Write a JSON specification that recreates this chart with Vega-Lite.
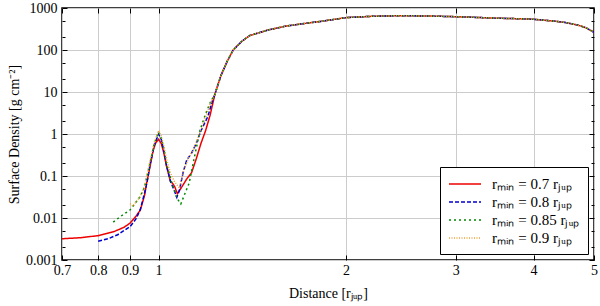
{
  "$schema": "https://vega.github.io/schema/vega-lite/v6.json",
  "width": 532,
  "height": 252,
  "autosize": "none",
  "padding": {"left": 62, "top": 8, "right": 6, "bottom": 46},
  "background": "white",
  "config": {
    "font": "Liberation Serif",
    "view": {"stroke": "black", "strokeWidth": 1.5},
    "axis": {
      "labelFont": "Liberation Serif",
      "titleFont": "Liberation Serif",
      "labelFontSize": 14,
      "titleFontSize": 14,
      "titleFontWeight": "normal",
      "labelColor": "black",
      "titleColor": "black",
      "gridColor": "#cccccc",
      "gridWidth": 1,
      "domainColor": "black",
      "tickColor": "black"
    }
  },
  "data": {
    "values": [
      {"s": "rₘᵢₙ = 0.7 rⱼᵤₚ", "x": 0.70, "y": 0.0032},
      {"s": "rₘᵢₙ = 0.7 rⱼᵤₚ", "x": 0.75, "y": 0.0034},
      {"s": "rₘᵢₙ = 0.7 rⱼᵤₚ", "x": 0.80, "y": 0.0038},
      {"s": "rₘᵢₙ = 0.7 rⱼᵤₚ", "x": 0.85, "y": 0.0048},
      {"s": "rₘᵢₙ = 0.7 rⱼᵤₚ", "x": 0.88, "y": 0.0060},
      {"s": "rₘᵢₙ = 0.7 rⱼᵤₚ", "x": 0.90, "y": 0.0075},
      {"s": "rₘᵢₙ = 0.7 rⱼᵤₚ", "x": 0.92, "y": 0.011},
      {"s": "rₘᵢₙ = 0.7 rⱼᵤₚ", "x": 0.935, "y": 0.0155},
      {"s": "rₘᵢₙ = 0.7 rⱼᵤₚ", "x": 0.95, "y": 0.035},
      {"s": "rₘᵢₙ = 0.7 rⱼᵤₚ", "x": 0.957, "y": 0.067},
      {"s": "rₘᵢₙ = 0.7 rⱼᵤₚ", "x": 0.97, "y": 0.18},
      {"s": "rₘᵢₙ = 0.7 rⱼᵤₚ", "x": 0.981, "y": 0.42},
      {"s": "rₘᵢₙ = 0.7 rⱼᵤₚ", "x": 0.99, "y": 0.62},
      {"s": "rₘᵢₙ = 0.7 rⱼᵤₚ", "x": 1.0, "y": 0.75},
      {"s": "rₘᵢₙ = 0.7 rⱼᵤₚ", "x": 1.01, "y": 0.6},
      {"s": "rₘᵢₙ = 0.7 rⱼᵤₚ", "x": 1.02, "y": 0.35},
      {"s": "rₘᵢₙ = 0.7 rⱼᵤₚ", "x": 1.03, "y": 0.17},
      {"s": "rₘᵢₙ = 0.7 rⱼᵤₚ", "x": 1.045, "y": 0.075},
      {"s": "rₘᵢₙ = 0.7 rⱼᵤₚ", "x": 1.055, "y": 0.065},
      {"s": "rₘᵢₙ = 0.7 rⱼᵤₚ", "x": 1.062, "y": 0.055},
      {"s": "rₘᵢₙ = 0.7 rⱼᵤₚ", "x": 1.072, "y": 0.038},
      {"s": "rₘᵢₙ = 0.7 rⱼᵤₚ", "x": 1.09, "y": 0.055},
      {"s": "rₘᵢₙ = 0.7 rⱼᵤₚ", "x": 1.11, "y": 0.085},
      {"s": "rₘᵢₙ = 0.7 rⱼᵤₚ", "x": 1.13, "y": 0.12},
      {"s": "rₘᵢₙ = 0.7 rⱼᵤₚ", "x": 1.15, "y": 0.26},
      {"s": "rₘᵢₙ = 0.7 rⱼᵤₚ", "x": 1.17, "y": 0.6},
      {"s": "rₘᵢₙ = 0.7 rⱼᵤₚ", "x": 1.19, "y": 1.2},
      {"s": "rₘᵢₙ = 0.7 rⱼᵤₚ", "x": 1.21, "y": 2.8},
      {"s": "rₘᵢₙ = 0.7 rⱼᵤₚ", "x": 1.232, "y": 9},
      {"s": "rₘᵢₙ = 0.7 rⱼᵤₚ", "x": 1.26, "y": 25},
      {"s": "rₘᵢₙ = 0.7 rⱼᵤₚ", "x": 1.29, "y": 55},
      {"s": "rₘᵢₙ = 0.7 rⱼᵤₚ", "x": 1.318, "y": 100},
      {"s": "rₘᵢₙ = 0.7 rⱼᵤₚ", "x": 1.36, "y": 160},
      {"s": "rₘᵢₙ = 0.7 rⱼᵤₚ", "x": 1.40, "y": 220},
      {"s": "rₘᵢₙ = 0.7 rⱼᵤₚ", "x": 1.5, "y": 300},
      {"s": "rₘᵢₙ = 0.7 rⱼᵤₚ", "x": 1.6, "y": 370},
      {"s": "rₘᵢₙ = 0.7 rⱼᵤₚ", "x": 1.7, "y": 420},
      {"s": "rₘᵢₙ = 0.7 rⱼᵤₚ", "x": 1.82, "y": 480},
      {"s": "rₘᵢₙ = 0.7 rⱼᵤₚ", "x": 2.0, "y": 590},
      {"s": "rₘᵢₙ = 0.7 rⱼᵤₚ", "x": 2.2, "y": 635},
      {"s": "rₘᵢₙ = 0.7 rⱼᵤₚ", "x": 2.44, "y": 656},
      {"s": "rₘᵢₙ = 0.7 rⱼᵤₚ", "x": 2.7, "y": 645},
      {"s": "rₘᵢₙ = 0.7 rⱼᵤₚ", "x": 3.0, "y": 621},
      {"s": "rₘᵢₙ = 0.7 rⱼᵤₚ", "x": 3.3, "y": 590},
      {"s": "rₘᵢₙ = 0.7 rⱼᵤₚ", "x": 3.53, "y": 569},
      {"s": "rₘᵢₙ = 0.7 rⱼᵤₚ", "x": 3.8, "y": 555},
      {"s": "rₘᵢₙ = 0.7 rⱼᵤₚ", "x": 4.0, "y": 538},
      {"s": "rₘᵢₙ = 0.7 rⱼᵤₚ", "x": 4.3, "y": 490},
      {"s": "rₘᵢₙ = 0.7 rⱼᵤₚ", "x": 4.5, "y": 450},
      {"s": "rₘᵢₙ = 0.7 rⱼᵤₚ", "x": 4.7, "y": 395},
      {"s": "rₘᵢₙ = 0.7 rⱼᵤₚ", "x": 4.85, "y": 340},
      {"s": "rₘᵢₙ = 0.7 rⱼᵤₚ", "x": 5.0, "y": 265},

      {"s": "rₘᵢₙ = 0.8 rⱼᵤₚ", "x": 0.80, "y": 0.0028},
      {"s": "rₘᵢₙ = 0.8 rⱼᵤₚ", "x": 0.83, "y": 0.0032},
      {"s": "rₘᵢₙ = 0.8 rⱼᵤₚ", "x": 0.86, "y": 0.0040},
      {"s": "rₘᵢₙ = 0.8 rⱼᵤₚ", "x": 0.90, "y": 0.0062},
      {"s": "rₘᵢₙ = 0.8 rⱼᵤₚ", "x": 0.92, "y": 0.0095},
      {"s": "rₘᵢₙ = 0.8 rⱼᵤₚ", "x": 0.935, "y": 0.016},
      {"s": "rₘᵢₙ = 0.8 rⱼᵤₚ", "x": 0.95, "y": 0.04},
      {"s": "rₘᵢₙ = 0.8 rⱼᵤₚ", "x": 0.96, "y": 0.08},
      {"s": "rₘᵢₙ = 0.8 rⱼᵤₚ", "x": 0.97, "y": 0.2},
      {"s": "rₘᵢₙ = 0.8 rⱼᵤₚ", "x": 0.985, "y": 0.55},
      {"s": "rₘᵢₙ = 0.8 rⱼᵤₚ", "x": 1.0, "y": 1.0},
      {"s": "rₘᵢₙ = 0.8 rⱼᵤₚ", "x": 1.01, "y": 0.75},
      {"s": "rₘᵢₙ = 0.8 rⱼᵤₚ", "x": 1.02, "y": 0.4},
      {"s": "rₘᵢₙ = 0.8 rⱼᵤₚ", "x": 1.03, "y": 0.18},
      {"s": "rₘᵢₙ = 0.8 rⱼᵤₚ", "x": 1.045, "y": 0.075},
      {"s": "rₘᵢₙ = 0.8 rⱼᵤₚ", "x": 1.06, "y": 0.045},
      {"s": "rₘᵢₙ = 0.8 rⱼᵤₚ", "x": 1.07, "y": 0.031},
      {"s": "rₘᵢₙ = 0.8 rⱼᵤₚ", "x": 1.08, "y": 0.045},
      {"s": "rₘᵢₙ = 0.8 rⱼᵤₚ", "x": 1.095, "y": 0.12},
      {"s": "rₘᵢₙ = 0.8 rⱼᵤₚ", "x": 1.11, "y": 0.24},
      {"s": "rₘᵢₙ = 0.8 rⱼᵤₚ", "x": 1.13, "y": 0.35},
      {"s": "rₘᵢₙ = 0.8 rⱼᵤₚ", "x": 1.15, "y": 0.6},
      {"s": "rₘᵢₙ = 0.8 rⱼᵤₚ", "x": 1.17, "y": 1.2},
      {"s": "rₘᵢₙ = 0.8 rⱼᵤₚ", "x": 1.20, "y": 2.6},
      {"s": "rₘᵢₙ = 0.8 rⱼᵤₚ", "x": 1.22, "y": 6},
      {"s": "rₘᵢₙ = 0.8 rⱼᵤₚ", "x": 1.232, "y": 9},
      {"s": "rₘᵢₙ = 0.8 rⱼᵤₚ", "x": 1.26, "y": 25},
      {"s": "rₘᵢₙ = 0.8 rⱼᵤₚ", "x": 1.29, "y": 55},
      {"s": "rₘᵢₙ = 0.8 rⱼᵤₚ", "x": 1.318, "y": 100},
      {"s": "rₘᵢₙ = 0.8 rⱼᵤₚ", "x": 1.36, "y": 160},
      {"s": "rₘᵢₙ = 0.8 rⱼᵤₚ", "x": 1.40, "y": 220},
      {"s": "rₘᵢₙ = 0.8 rⱼᵤₚ", "x": 1.5, "y": 300},
      {"s": "rₘᵢₙ = 0.8 rⱼᵤₚ", "x": 1.6, "y": 370},
      {"s": "rₘᵢₙ = 0.8 rⱼᵤₚ", "x": 1.7, "y": 420},
      {"s": "rₘᵢₙ = 0.8 rⱼᵤₚ", "x": 1.82, "y": 480},
      {"s": "rₘᵢₙ = 0.8 rⱼᵤₚ", "x": 2.0, "y": 590},
      {"s": "rₘᵢₙ = 0.8 rⱼᵤₚ", "x": 2.2, "y": 635},
      {"s": "rₘᵢₙ = 0.8 rⱼᵤₚ", "x": 2.44, "y": 656},
      {"s": "rₘᵢₙ = 0.8 rⱼᵤₚ", "x": 2.7, "y": 645},
      {"s": "rₘᵢₙ = 0.8 rⱼᵤₚ", "x": 3.0, "y": 621},
      {"s": "rₘᵢₙ = 0.8 rⱼᵤₚ", "x": 3.3, "y": 590},
      {"s": "rₘᵢₙ = 0.8 rⱼᵤₚ", "x": 3.53, "y": 569},
      {"s": "rₘᵢₙ = 0.8 rⱼᵤₚ", "x": 3.8, "y": 555},
      {"s": "rₘᵢₙ = 0.8 rⱼᵤₚ", "x": 4.0, "y": 538},
      {"s": "rₘᵢₙ = 0.8 rⱼᵤₚ", "x": 4.3, "y": 490},
      {"s": "rₘᵢₙ = 0.8 rⱼᵤₚ", "x": 4.5, "y": 450},
      {"s": "rₘᵢₙ = 0.8 rⱼᵤₚ", "x": 4.7, "y": 395},
      {"s": "rₘᵢₙ = 0.8 rⱼᵤₚ", "x": 4.85, "y": 340},
      {"s": "rₘᵢₙ = 0.8 rⱼᵤₚ", "x": 5.0, "y": 265},

      {"s": "rₘᵢₙ = 0.85 rⱼᵤₚ", "x": 0.846, "y": 0.008},
      {"s": "rₘᵢₙ = 0.85 rⱼᵤₚ", "x": 0.87, "y": 0.011},
      {"s": "rₘᵢₙ = 0.85 rⱼᵤₚ", "x": 0.90, "y": 0.0155},
      {"s": "rₘᵢₙ = 0.85 rⱼᵤₚ", "x": 0.934, "y": 0.032},
      {"s": "rₘᵢₙ = 0.85 rⱼᵤₚ", "x": 0.95, "y": 0.055},
      {"s": "rₘᵢₙ = 0.85 rⱼᵤₚ", "x": 0.97, "y": 0.22},
      {"s": "rₘᵢₙ = 0.85 rⱼᵤₚ", "x": 0.985, "y": 0.6},
      {"s": "rₘᵢₙ = 0.85 rⱼᵤₚ", "x": 1.0, "y": 1.1},
      {"s": "rₘᵢₙ = 0.85 rⱼᵤₚ", "x": 1.01, "y": 0.8},
      {"s": "rₘᵢₙ = 0.85 rⱼᵤₚ", "x": 1.02, "y": 0.45},
      {"s": "rₘᵢₙ = 0.85 rⱼᵤₚ", "x": 1.03, "y": 0.2},
      {"s": "rₘᵢₙ = 0.85 rⱼᵤₚ", "x": 1.05, "y": 0.07},
      {"s": "rₘᵢₙ = 0.85 rⱼᵤₚ", "x": 1.07, "y": 0.03},
      {"s": "rₘᵢₙ = 0.85 rⱼᵤₚ", "x": 1.086, "y": 0.0216},
      {"s": "rₘᵢₙ = 0.85 rⱼᵤₚ", "x": 1.10, "y": 0.035},
      {"s": "rₘᵢₙ = 0.85 rⱼᵤₚ", "x": 1.12, "y": 0.068},
      {"s": "rₘᵢₙ = 0.85 rⱼᵤₚ", "x": 1.14, "y": 0.25},
      {"s": "rₘᵢₙ = 0.85 rⱼᵤₚ", "x": 1.166, "y": 1.25},
      {"s": "rₘᵢₙ = 0.85 rⱼᵤₚ", "x": 1.19, "y": 3},
      {"s": "rₘᵢₙ = 0.85 rⱼᵤₚ", "x": 1.21, "y": 5.5},
      {"s": "rₘᵢₙ = 0.85 rⱼᵤₚ", "x": 1.232, "y": 9},
      {"s": "rₘᵢₙ = 0.85 rⱼᵤₚ", "x": 1.26, "y": 25},
      {"s": "rₘᵢₙ = 0.85 rⱼᵤₚ", "x": 1.29, "y": 55},
      {"s": "rₘᵢₙ = 0.85 rⱼᵤₚ", "x": 1.318, "y": 100},
      {"s": "rₘᵢₙ = 0.85 rⱼᵤₚ", "x": 1.36, "y": 160},
      {"s": "rₘᵢₙ = 0.85 rⱼᵤₚ", "x": 1.40, "y": 220},
      {"s": "rₘᵢₙ = 0.85 rⱼᵤₚ", "x": 1.5, "y": 300},
      {"s": "rₘᵢₙ = 0.85 rⱼᵤₚ", "x": 1.6, "y": 370},
      {"s": "rₘᵢₙ = 0.85 rⱼᵤₚ", "x": 1.7, "y": 420},
      {"s": "rₘᵢₙ = 0.85 rⱼᵤₚ", "x": 1.82, "y": 480},
      {"s": "rₘᵢₙ = 0.85 rⱼᵤₚ", "x": 2.0, "y": 590},
      {"s": "rₘᵢₙ = 0.85 rⱼᵤₚ", "x": 2.2, "y": 635},
      {"s": "rₘᵢₙ = 0.85 rⱼᵤₚ", "x": 2.44, "y": 656},
      {"s": "rₘᵢₙ = 0.85 rⱼᵤₚ", "x": 2.7, "y": 645},
      {"s": "rₘᵢₙ = 0.85 rⱼᵤₚ", "x": 3.0, "y": 621},
      {"s": "rₘᵢₙ = 0.85 rⱼᵤₚ", "x": 3.3, "y": 590},
      {"s": "rₘᵢₙ = 0.85 rⱼᵤₚ", "x": 3.53, "y": 569},
      {"s": "rₘᵢₙ = 0.85 rⱼᵤₚ", "x": 3.8, "y": 555},
      {"s": "rₘᵢₙ = 0.85 rⱼᵤₚ", "x": 4.0, "y": 538},
      {"s": "rₘᵢₙ = 0.85 rⱼᵤₚ", "x": 4.3, "y": 490},
      {"s": "rₘᵢₙ = 0.85 rⱼᵤₚ", "x": 4.5, "y": 450},
      {"s": "rₘᵢₙ = 0.85 rⱼᵤₚ", "x": 4.7, "y": 395},
      {"s": "rₘᵢₙ = 0.85 rⱼᵤₚ", "x": 4.85, "y": 340},
      {"s": "rₘᵢₙ = 0.85 rⱼᵤₚ", "x": 5.0, "y": 265},

      {"s": "rₘᵢₙ = 0.9 rⱼᵤₚ", "x": 0.90, "y": 0.022},
      {"s": "rₘᵢₙ = 0.9 rⱼᵤₚ", "x": 0.91, "y": 0.019},
      {"s": "rₘᵢₙ = 0.9 rⱼᵤₚ", "x": 0.92, "y": 0.024},
      {"s": "rₘᵢₙ = 0.9 rⱼᵤₚ", "x": 0.934, "y": 0.032},
      {"s": "rₘᵢₙ = 0.9 rⱼᵤₚ", "x": 0.95, "y": 0.055},
      {"s": "rₘᵢₙ = 0.9 rⱼᵤₚ", "x": 0.97, "y": 0.24},
      {"s": "rₘᵢₙ = 0.9 rⱼᵤₚ", "x": 0.985, "y": 0.65},
      {"s": "rₘᵢₙ = 0.9 rⱼᵤₚ", "x": 1.0, "y": 1.2},
      {"s": "rₘᵢₙ = 0.9 rⱼᵤₚ", "x": 1.01, "y": 0.9},
      {"s": "rₘᵢₙ = 0.9 rⱼᵤₚ", "x": 1.02, "y": 0.5},
      {"s": "rₘᵢₙ = 0.9 rⱼᵤₚ", "x": 1.03, "y": 0.25},
      {"s": "rₘᵢₙ = 0.9 rⱼᵤₚ", "x": 1.045, "y": 0.12},
      {"s": "rₘᵢₙ = 0.9 rⱼᵤₚ", "x": 1.06, "y": 0.075},
      {"s": "rₘᵢₙ = 0.9 rⱼᵤₚ", "x": 1.08, "y": 0.052},
      {"s": "rₘᵢₙ = 0.9 rⱼᵤₚ", "x": 1.10, "y": 0.15},
      {"s": "rₘᵢₙ = 0.9 rⱼᵤₚ", "x": 1.12, "y": 0.29},
      {"s": "rₘᵢₙ = 0.9 rⱼᵤₚ", "x": 1.14, "y": 0.45},
      {"s": "rₘᵢₙ = 0.9 rⱼᵤₚ", "x": 1.16, "y": 0.9},
      {"s": "rₘᵢₙ = 0.9 rⱼᵤₚ", "x": 1.19, "y": 2.5},
      {"s": "rₘᵢₙ = 0.9 rⱼᵤₚ", "x": 1.21, "y": 5.2},
      {"s": "rₘᵢₙ = 0.9 rⱼᵤₚ", "x": 1.232, "y": 9},
      {"s": "rₘᵢₙ = 0.9 rⱼᵤₚ", "x": 1.26, "y": 25},
      {"s": "rₘᵢₙ = 0.9 rⱼᵤₚ", "x": 1.29, "y": 55},
      {"s": "rₘᵢₙ = 0.9 rⱼᵤₚ", "x": 1.318, "y": 100},
      {"s": "rₘᵢₙ = 0.9 rⱼᵤₚ", "x": 1.36, "y": 160},
      {"s": "rₘᵢₙ = 0.9 rⱼᵤₚ", "x": 1.40, "y": 220},
      {"s": "rₘᵢₙ = 0.9 rⱼᵤₚ", "x": 1.5, "y": 300},
      {"s": "rₘᵢₙ = 0.9 rⱼᵤₚ", "x": 1.6, "y": 370},
      {"s": "rₘᵢₙ = 0.9 rⱼᵤₚ", "x": 1.7, "y": 420},
      {"s": "rₘᵢₙ = 0.9 rⱼᵤₚ", "x": 1.82, "y": 480},
      {"s": "rₘᵢₙ = 0.9 rⱼᵤₚ", "x": 2.0, "y": 590},
      {"s": "rₘᵢₙ = 0.9 rⱼᵤₚ", "x": 2.2, "y": 635},
      {"s": "rₘᵢₙ = 0.9 rⱼᵤₚ", "x": 2.44, "y": 656},
      {"s": "rₘᵢₙ = 0.9 rⱼᵤₚ", "x": 2.7, "y": 645},
      {"s": "rₘᵢₙ = 0.9 rⱼᵤₚ", "x": 3.0, "y": 621},
      {"s": "rₘᵢₙ = 0.9 rⱼᵤₚ", "x": 3.3, "y": 590},
      {"s": "rₘᵢₙ = 0.9 rⱼᵤₚ", "x": 3.53, "y": 569},
      {"s": "rₘᵢₙ = 0.9 rⱼᵤₚ", "x": 3.8, "y": 555},
      {"s": "rₘᵢₙ = 0.9 rⱼᵤₚ", "x": 4.0, "y": 538},
      {"s": "rₘᵢₙ = 0.9 rⱼᵤₚ", "x": 4.3, "y": 490},
      {"s": "rₘᵢₙ = 0.9 rⱼᵤₚ", "x": 4.5, "y": 450},
      {"s": "rₘᵢₙ = 0.9 rⱼᵤₚ", "x": 4.7, "y": 395},
      {"s": "rₘᵢₙ = 0.9 rⱼᵤₚ", "x": 4.85, "y": 340},
      {"s": "rₘᵢₙ = 0.9 rⱼᵤₚ", "x": 5.0, "y": 265}
    ]
  },
  "resolve": {"axis": {"x": "independent", "y": "independent"}},
  "layer": [
    {
      "mark": {"type": "line", "strokeWidth": 1.5, "clip": true},
      "encoding": {
        "x": {
          "field": "x",
          "type": "quantitative",
          "scale": {"type": "log", "domain": [0.7, 5], "nice": false},
          "axis": {
            "orient": "bottom",
            "title": "Distance [rⱼᵤₚ]",
            "titleFont": "Liberation Serif",
            "labelFont": "Liberation Serif",
            "values": [0.7, 0.8, 0.9, 1, 2, 3, 4, 5],
            "format": "~g",
            "tickSize": -5,
            "labelPadding": 8,
            "titlePadding": 9,
            "domain": false,
            "labelOverlap": false,
            "labelFlush": false
          }
        },
        "y": {
          "field": "y",
          "type": "quantitative",
          "scale": {"type": "log", "domain": [0.001, 1000], "nice": false},
          "axis": {
            "orient": "left",
            "title": "Surface Density [g cm⁻²]",
            "titleFont": "Liberation Serif",
            "labelFont": "Liberation Serif",
            "values": [0.001, 0.002, 0.005, 0.01, 0.02, 0.05, 0.1, 0.2, 0.5, 1, 2, 5, 10, 20, 50, 100, 200, 500, 1000],
            "format": "~g",
            "labelExpr": "abs(log(datum.value)/LN10 - round(log(datum.value)/LN10)) < 0.01 ? datum.label : ''",
            "gridOpacity": {"condition": {"test": "abs(log(datum.value)/LN10 - round(log(datum.value)/LN10)) < 0.01", "value": 1}, "value": 0},
            "tickSize": {"condition": {"test": "abs(log(datum.value)/LN10 - round(log(datum.value)/LN10)) < 0.01", "value": -5}, "value": -3},
            "labelPadding": 10,
            "titlePadding": 4,
            "domain": false,
            "labelOverlap": false,
            "labelFlush": false
          }
        },
        "color": {
          "field": "s",
          "type": "nominal",
          "scale": {
            "domain": ["rₘᵢₙ = 0.7 rⱼᵤₚ", "rₘᵢₙ = 0.8 rⱼᵤₚ", "rₘᵢₙ = 0.85 rⱼᵤₚ", "rₘᵢₙ = 0.9 rⱼᵤₚ"],
            "range": ["#ee0000", "#0000cc", "#008800", "#f0a030"]
          },
          "legend": {
            "title": null,
            "orient": "bottom-right",
            "offset": 6,
            "strokeColor": "black",
            "fillColor": "white",
            "padding": 8,
            "labelFont": "Liberation Serif",
            "labelFontSize": 15,
            "labelColor": "black",
            "symbolType": "M-2,0H2",
            "symbolSize": 256,
            "symbolOffset": 8,
            "labelOffset": 18,
            "symbolStrokeWidth": 1.5,
            "rowPadding": 1,
            "labelLimit": 300
          }
        },
        "strokeDash": {
          "field": "s",
          "type": "nominal",
          "scale": {
            "domain": ["rₘᵢₙ = 0.7 rⱼᵤₚ", "rₘᵢₙ = 0.8 rⱼᵤₚ", "rₘᵢₙ = 0.85 rⱼᵤₚ", "rₘᵢₙ = 0.9 rⱼᵤₚ"],
            "range": [[1, 0], [4, 2], [2, 3], [1, 1.5]]
          },
          "legend": {
            "title": null,
            "orient": "bottom-right",
            "offset": 6,
            "strokeColor": "black",
            "fillColor": "white",
            "padding": 8,
            "labelFont": "Liberation Serif",
            "labelFontSize": 15,
            "labelColor": "black",
            "symbolType": "M-2,0H2",
            "symbolSize": 256,
            "symbolOffset": 8,
            "labelOffset": 18,
            "symbolStrokeWidth": 1.5,
            "rowPadding": 1,
            "labelLimit": 300
          }
        }
      }
    },
    {
      "mark": {"type": "line", "strokeOpacity": 0, "clip": true},
      "encoding": {
        "x": {
          "field": "x",
          "type": "quantitative",
          "axis": {
            "orient": "top",
            "title": null,
            "labels": false,
            "grid": false,
            "domain": false,
            "values": [0.7, 0.8, 0.9, 1, 2, 3, 4, 5],
            "tickSize": -5
          }
        },
        "y": {
          "field": "y",
          "type": "quantitative",
          "axis": {
            "orient": "right",
            "title": null,
            "labels": false,
            "grid": false,
            "domain": false,
            "values": [0.001, 0.002, 0.005, 0.01, 0.02, 0.05, 0.1, 0.2, 0.5, 1, 2, 5, 10, 20, 50, 100, 200, 500, 1000],
            "tickSize": {"condition": {"test": "abs(log(datum.value)/LN10 - round(log(datum.value)/LN10)) < 0.01", "value": -5}, "value": -3}
          }
        }
      }
    }
  ]
}
